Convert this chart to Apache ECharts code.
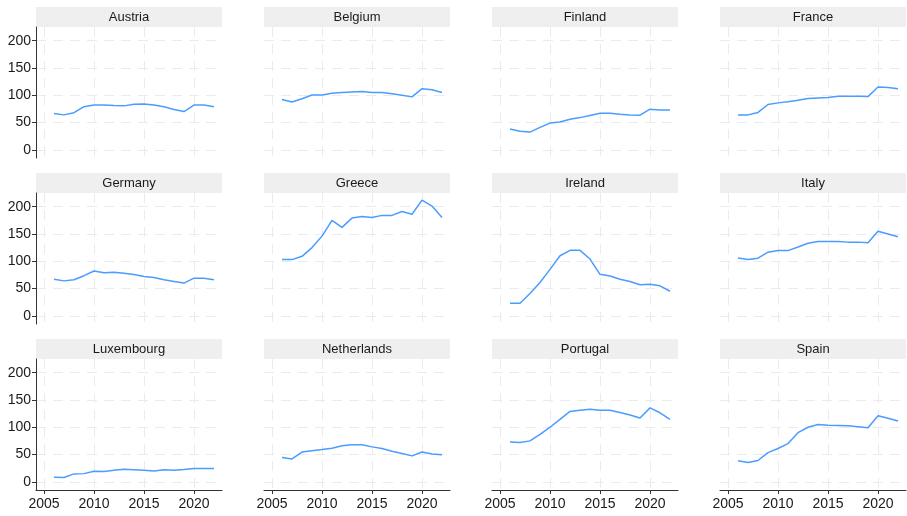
<!DOCTYPE html>
<html>
<head>
<meta charset="utf-8">
<script src="https://cdn.jsdelivr.net/npm/echarts@6/dist/echarts.min.js"></script>
<style>
  html, body { margin: 0; padding: 0; background: #fff; }
  #main { width: 907px; height: 516px; }
</style>
</head>
<body>
<div id="main"></div>
<script>
// panel data: government debt (% of GDP) 2006-2022
var years = [2006, 2007, 2008, 2009, 2010, 2011, 2012, 2013, 2014, 2015, 2016, 2017, 2018, 2019, 2020, 2021, 2022];
var countries = ['Austria', 'Belgium', 'Finland', 'France', 'Germany', 'Greece', 'Ireland', 'Italy', 'Luxembourg', 'Netherlands', 'Portugal', 'Spain'];

var austria     = [66.5, 64, 68, 79, 82, 82, 81, 80.5, 83.5, 84, 82, 79, 74, 70, 82, 82, 79];
var belgium     = [92, 87.5, 93.5, 100.5, 100.5, 103.5, 105, 106, 107, 105, 105, 102.5, 100, 97, 112, 110, 105];
var finland     = [38, 34, 32.5, 41, 49, 51, 56, 59, 63, 67, 67, 65, 64, 63.5, 74.5, 73, 73];
var france      = [64, 64, 68.5, 83, 86, 88, 91, 94, 95, 96, 98, 98, 98, 97.5, 115, 114, 112];
var germany     = [67, 64, 66, 73.5, 82, 79, 80, 78, 75.5, 72, 70, 66, 63, 60, 69, 69, 66];
var greece      = [103, 103, 109, 125, 146, 175, 162, 179, 182, 180, 184, 184, 191, 186, 212, 201, 180];
var ireland     = [23, 23, 41, 61, 85, 110, 120, 120, 104, 76, 73, 67, 63, 57, 58, 55, 45];
var italy       = [106, 103, 105.5, 116.5, 119.5, 119.5, 126, 133, 136, 136, 136, 135, 135, 134, 155, 150, 145];
var luxembourg  = [8.5, 8, 14.5, 15, 19.5, 19, 21, 23, 22, 21, 20, 22, 21, 22.5, 24.5, 24.5, 24.5];
var netherlands = [44.5, 42, 54.5, 57, 59, 61.5, 66, 68, 68, 64, 61, 56, 52, 47.5, 54.5, 51, 49.5];
var portugal    = [73, 72, 75, 87, 100, 114.5, 129, 131, 133, 131, 131, 127, 122.5, 117, 135.5, 126.5, 114.5];
var spain       = [38.5, 35.5, 39, 53.5, 61, 70, 90, 100, 105, 103.5, 103, 102.5, 101, 99, 121, 116.5, 111.5];

var seriesValues = [austria, belgium, finland, france, germany, greece, ireland, italy, luxembourg, netherlands, portugal, spain];
var xTicks = [2005, 2010, 2015, 2020];
var yTicks = [0, 50, 100, 150, 200];

var chart = echarts.init(document.getElementById('main'));
window.addEventListener('resize', function () { chart.resize(); });

var FONT = 'Liberation Sans, Arial, sans-serif';
var gridLine = { show: true, lineStyle: { color: '#ebebeb', width: 1, type: [10, 7] } };

var grids = [], xAxes = [], yAxes = [], series = [], graphics = [];

countries.forEach(function (name, i) {
    var row = Math.floor(i / 4), col = i % 4;
    var left = 36 + col * 228, top = 27 + row * 166;
    var w = 186, h = 131;
    grids.push({ left: left, top: top, width: w, height: h });

    var bottomRow = row === 2, firstCol = col === 0;
    xAxes.push({
        type: 'value', gridIndex: i, min: 2004.2, max: 2022.8,
        axisLine: { show: bottomRow, onZero: false, lineStyle: { color: '#333', width: 1 } },
        axisTick: { show: bottomRow, length: 4, customValues: xTicks, lineStyle: { color: '#333' } },
        axisLabel: {
            show: bottomRow, customValues: xTicks, color: '#1a1a1a', fontSize: 14, fontFamily: FONT, margin: 7,
            formatter: function (v) { return String(v); }
        },
        splitLine: gridLine
    });
    yAxes.push({
        type: 'value', gridIndex: i, min: -15, max: 225,
        axisLine: { show: firstCol, lineStyle: { color: '#333', width: 1 } },
        axisTick: { show: firstCol, length: 4, customValues: yTicks, lineStyle: { color: '#333' } },
        axisLabel: { show: firstCol, customValues: yTicks, color: '#1a1a1a', fontSize: 14, fontFamily: FONT, margin: 5 },
        splitLine: gridLine
    });
    series.push({
        type: 'line', xAxisIndex: i, yAxisIndex: i,
        data: years.map(function (y, k) { return [y, seriesValues[i][k]]; }),
        showSymbol: false, smooth: false,
        lineStyle: { color: '#4a9cff', width: 1.5 },
        itemStyle: { color: '#4a9cff' }
    });

    // facet strip
    graphics.push({
        type: 'rect', left: left, top: top - 20, silent: true,
        shape: { width: w, height: 20 }, style: { fill: '#efefef' }
    });
    graphics.push({
        type: 'text', x: left + w / 2, y: top - 10, silent: true,
        style: { text: name, fill: '#1a1a1a', font: '13px ' + FONT, textAlign: 'center', textVerticalAlign: 'middle' }
    });
});

var option = {
    animation: false,
    backgroundColor: '#fff',
    grid: grids,
    xAxis: xAxes,
    yAxis: yAxes,
    series: series,
    graphic: graphics
};

chart.setOption(option);
</script>
</body>
</html>
